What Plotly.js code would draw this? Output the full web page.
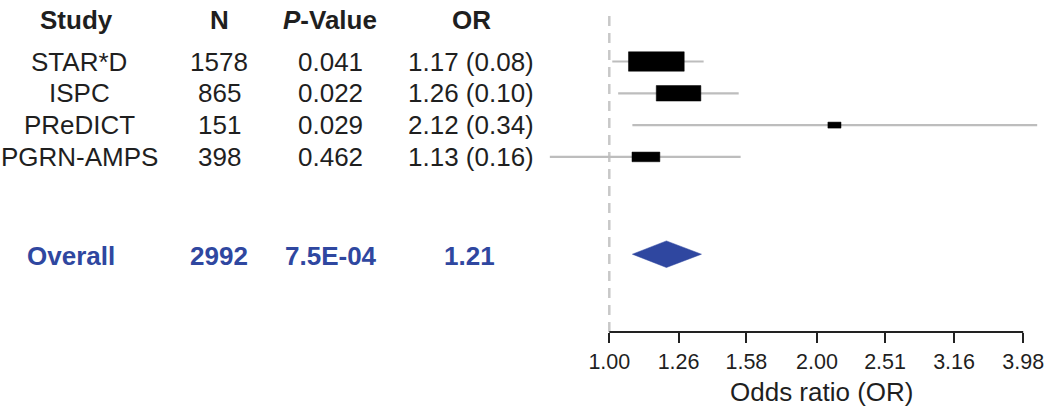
<!DOCTYPE html>
<html>
<head>
<meta charset="utf-8">
<script src="https://cdn.plot.ly/plotly-3.0.1.min.js"></script>
<style>
  html, body { margin: 0; padding: 0; background: #ffffff; }
  #chart { width: 1050px; height: 415px; }
</style>
</head>
<body>
<div id="chart"></div>
<script>
// ---- data ----
const studies = ["STAR*D", "ISPC", "PReDICT", "PGRN-AMPS"];
const nValues = [1578, 865, 151, 398];
const pValues = ["0.041", "0.022", "0.029", "0.462"];
const orValues = [1.17, 1.26, 2.12, 1.13];
const seValues = [0.08, 0.10, 0.34, 0.16];
const ciLow = [1.01, 1.03, 1.08, 0.82];
const ciHigh = [1.37, 1.54, 4.17, 1.55];

const overallLabel = "Overall";
const overallN = 2992;
const overallP = "7.5E-04";
const overallOR = 1.21;
const overallLow = 1.08;
const overallHigh = 1.36;

const headers = ["Study", "N", "<i>P</i>-Value", "OR"];
const tickLabels = ["1.00", "1.26", "1.58", "2.00", "2.51", "3.16", "3.98"];
const axisTitle = "Odds ratio (OR)";

// ---- layout constants ----
const W = 1050, H = 415;
const ML = 540, MR = 5, MT = 0, MB = 83;
const PW = W - ML - MR, PH = H - MT - MB;
const PX_PER_DECADE = 690;
const X_ONE_PX = 609.3;               // pixel of OR = 1 on page
const ROW_PX = 31.8;
const FIRST_ROW_PX = 61.5;
const OVERALL_ROW = 6.12;
const HEADER_ROW = -1.3;

const xr0 = (ML - X_ONE_PX) / PX_PER_DECADE;
const xr1 = (ML + PW - X_ONE_PX) / PX_PER_DECADE;
const yTop = -FIRST_ROW_PX / ROW_PX;
const yBot = (PH - FIRST_ROW_PX) / ROW_PX;

const FONT = 'Arial, "Liberation Sans", Helvetica, sans-serif';
const TXT = '#1f1f1f';
const BLUE = '#2f47a0';
const GREY = '#bdbdbd';
const FS = 26;

const colX = [79, 219, 330, 471];     // column centres in page px
const px2paper = p => (p - ML) / PW;

const traces = [];

// CI lines
studies.forEach((s, i) => {
  traces.push({
    type: 'scatter', mode: 'lines',
    x: [ciLow[i], ciHigh[i]], y: [i, i],
    line: { color: GREY, width: 2.2 },
    hoverinfo: 'skip', showlegend: false
  });
});

// boxes (size from study weight 1/SE)
studies.forEach((s, i) => {
  const w = 1 / seValues[i];
  const halfW = 2.23 * w / PX_PER_DECADE;            // log10 units
  const halfH = Math.max(3, 0.775 * w) / ROW_PX;      // row units
  const x0 = orValues[i] / Math.pow(10, halfW);
  const x1 = orValues[i] * Math.pow(10, halfW);
  traces.push({
    type: 'scatter', mode: 'lines',
    x: [x0, x1, x1, x0, x0],
    y: [i - halfH, i - halfH, i + halfH, i + halfH, i - halfH],
    fill: 'toself', fillcolor: '#000000',
    line: { color: '#000000', width: 0.5 },
    hoverinfo: 'skip', showlegend: false
  });
});

// overall diamond
const dH = 13.3 / ROW_PX;
const dY = OVERALL_ROW - 0.06;
traces.push({
  type: 'scatter', mode: 'lines',
  x: [overallLow, overallOR, overallHigh, overallOR, overallLow],
  y: [dY, dY - dH, dY, dY + dH, dY],
  fill: 'toself', fillcolor: BLUE,
  line: { color: BLUE, width: 0.5 },
  hoverinfo: 'skip', showlegend: false
});

// annotations (table)
const annotations = [];
headers.forEach((h, c) => {
  annotations.push({
    xref: 'paper', yref: 'y', x: px2paper(c === 0 ? 76 : colX[c]), y: HEADER_ROW,
    text: '<b>' + h + '</b>', showarrow: false,
    xanchor: 'center', yanchor: 'middle',
    font: { family: FONT, size: FS, color: TXT }
  });
});
studies.forEach((s, i) => {
  const cells = [s, String(nValues[i]), pValues[i],
                 orValues[i].toFixed(2) + ' (' + seValues[i].toFixed(2) + ')'];
  cells.forEach((t, c) => {
    annotations.push({
      xref: 'paper', yref: 'y', x: px2paper(colX[c]), y: i,
      text: t, showarrow: false, xanchor: 'center', yanchor: 'middle',
      font: { family: FONT, size: FS, color: TXT }
    });
  });
});
const overallCells = [overallLabel, String(overallN), overallP, overallOR.toFixed(2)];
const overallX = [71, 219, 331, 469];
overallCells.forEach((t, c) => {
  annotations.push({
    xref: 'paper', yref: 'y', x: px2paper(overallX[c]), y: OVERALL_ROW,
    text: '<b>' + t + '</b>', showarrow: false, xanchor: 'center', yanchor: 'middle',
    font: { family: FONT, size: FS, color: BLUE }
  });
});
// axis title
annotations.push({
  xref: 'paper', yref: 'paper', x: px2paper(822), y: (PH - 392) / PH,
  text: axisTitle, showarrow: false, xanchor: 'center', yanchor: 'middle',
  font: { family: FONT, size: FS, color: TXT }
});

const tickVals = tickLabels.map(Number);

const layout = {
  width: W, height: H,
  margin: { l: ML, r: MR, t: MT, b: MB, pad: 0 },
  paper_bgcolor: '#ffffff', plot_bgcolor: '#ffffff',
  showlegend: false,
  xaxis: {
    type: 'log', range: [xr0, xr1],
    tickmode: 'array', tickvals: tickVals, ticktext: tickLabels,
    ticks: 'outside', ticklen: 10, tickwidth: 2, tickcolor: '#222222',
    tickfont: { family: FONT, size: 21.5, color: TXT },
    showgrid: false, zeroline: false, showline: false,
    fixedrange: true
  },
  yaxis: {
    range: [yBot, yTop],
    showticklabels: false, ticks: '', showgrid: false, zeroline: false, showline: false,
    fixedrange: true
  },
  shapes: [
    { type: 'line', xref: 'x', yref: 'paper',
      x0: 1, x1: 1, y0: 0, y1: (PH - 10) / PH,
      line: { color: '#c8c8c8', width: 2.5, dash: '10px,7px' }, layer: 'below' },
    { type: 'line', xref: 'x', yref: 'paper',
      x0: tickVals[0], x1: tickVals[tickVals.length - 1], y0: 0, y1: 0,
      line: { color: '#222222', width: 2 } }
  ],
  annotations: annotations
};

Plotly.newPlot('chart', traces, layout, { staticPlot: true, displayModeBar: false });
</script>
</body>
</html>
